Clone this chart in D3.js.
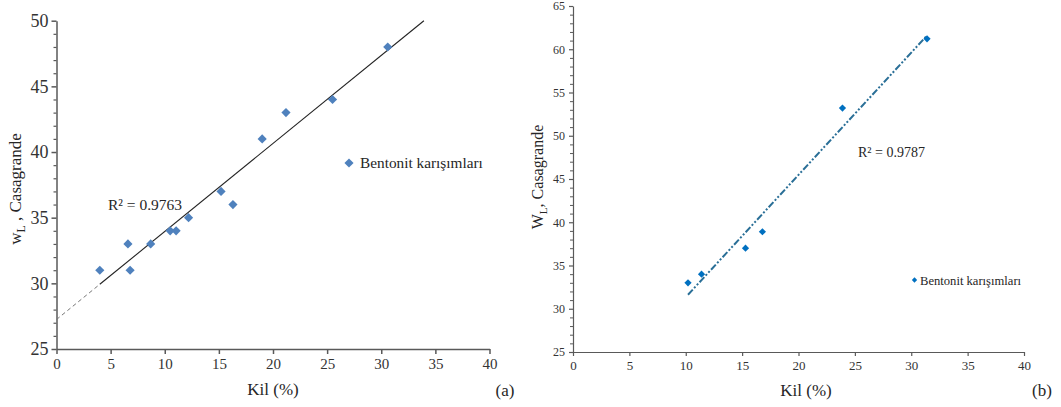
<!DOCTYPE html>
<html>
<head>
    <meta charset="UTF-8">
    <title>Kil - wL Casagrande</title>
</head>
<style>
    body { margin: 0; background: #fff; }
    svg text { font-family: "Liberation Serif", "Tinos", "Noto Serif", "DejaVu Serif", "FreeSerif", "Times New Roman", Times, serif !important; fill: #262626; }
    .axis path, .axis line { stroke: #595959; }
    .axis text { fill: #333; }
</style>
<body>
<svg width="1061" height="407"></svg>
<script src="https://d3js.org/d3.v7.min.js"></script>
<script>

    // panel (a)
    var kilA = [4, 6.6, 6.8, 8.7, 10.5, 11.05, 12.2, 15.2, 16.3, 19, 21.2, 25.5, 30.6];
    var wlA  = [31, 33, 31, 33, 34, 34, 35, 37, 36, 41, 43, 44, 48];
    var xTicksA = [0, 5, 10, 15, 20, 25, 30, 35, 40];
    var yTicksA = [25, 30, 35, 40, 45, 50];

    // panel (b)
    var kilB = [10.2, 11.4, 15.3, 16.8, 23.9, 31.4];
    var wlB  = [33, 34, 37, 38.9, 53.2, 61.2];
    var xTicksB = [0, 5, 10, 15, 20, 25, 30, 35, 40];
    var yTicksB = [25, 30, 35, 40, 45, 50, 55, 60, 65];

    var svg = d3.select("svg");

    function fit(xs, ys) {
        var mx = d3.mean(xs), my = d3.mean(ys);
        var sxy = d3.sum(xs, function(d, i) { return (d - mx) * (ys[i] - my); });
        var sxx = d3.sum(xs, function(d) { return (d - mx) * (d - mx); });
        var b = sxy / sxx;
        return { b: b, a: my - b * mx };
    }

    function minorTicks(lo, hi, majors) {
        return d3.range(lo, hi + 1).filter(function(v) { return majors.indexOf(v) < 0; });
    }

    // ---------- (a) ----------
    var xA = d3.scaleLinear().domain([0, 40]).range([56.5, 489.5]);
    var yA = d3.scaleLinear().domain([25, 50]).range([349, 20.7]);
    var gA = svg.append("g");

    gA.append("g").attr("class", "axis")
        .attr("transform", "translate(0," + yA(25) + ")")
        .call(d3.axisBottom(xA).tickValues(xTicksA).tickSize(5).tickSizeOuter(0).tickPadding(4))
        .call(function(g) {
            g.attr("font-family", null);
            g.selectAll("path,line").attr("stroke-width", 1.5);
            g.selectAll("text").attr("font-size", 15);
        });

    gA.append("g").attr("class", "axis")
        .attr("transform", "translate(" + xA(0) + ",0)")
        .call(d3.axisLeft(yA).tickValues(minorTicks(25, 50, yTicksA)).tickSize(3).tickFormat(""))
        .call(function(g) { g.select("path").remove(); g.selectAll("line").attr("stroke-width", 1.2); });

    gA.append("g").attr("class", "axis")
        .attr("transform", "translate(" + xA(0) + ",0)")
        .call(d3.axisLeft(yA).tickValues(yTicksA).tickSize(5).tickSizeOuter(0).tickPadding(3))
        .call(function(g) {
            g.attr("font-family", null);
            g.selectAll("path,line").attr("stroke-width", 1.5);
            g.selectAll("text").attr("font-size", 18);
        });

    var fA = fit(kilA, wlA);
    var xStartA = d3.min(kilA);
    var xEndA = (50 - fA.a) / fA.b;
    gA.append("line")
        .attr("x1", xA(0)).attr("y1", yA(fA.a))
        .attr("x2", xA(xStartA)).attr("y2", yA(fA.a + fA.b * xStartA))
        .attr("stroke", "#777").attr("stroke-width", 1).attr("stroke-dasharray", "4,3");
    gA.append("line")
        .attr("x1", xA(xStartA)).attr("y1", yA(fA.a + fA.b * xStartA))
        .attr("x2", xA(xEndA)).attr("y2", yA(fA.a + fA.b * xEndA))
        .attr("stroke", "#222").attr("stroke-width", 1.1);

    var diamondA = d3.symbol().type(d3.symbolSquare).size(42);
    gA.append("g").selectAll("path")
        .data(kilA)
        .enter().append("path")
        .attr("d", diamondA)
        .attr("fill", "#4f81bd")
        .attr("transform", function(d, i) { return "translate(" + xA(d) + "," + yA(wlA[i]) + ") rotate(45)"; });

    gA.append("text").attr("x", 108).attr("y", 210).attr("font-size", 15.5)
        .text("R² = 0.9763");

    gA.append("path").attr("d", diamondA).attr("fill", "#4f81bd")
        .attr("transform", "translate(349,163) rotate(45)");
    gA.append("text").attr("x", 360).attr("y", 168).attr("font-size", 15.3)
        .text("Bentonit karışımları");

    gA.append("text").attr("x", 273).attr("y", 395).attr("font-size", 17)
        .attr("text-anchor", "middle").text("Kil (%)");

    var ytA = gA.append("text").attr("font-size", 17).attr("text-anchor", "middle")
        .attr("transform", "translate(21,189) rotate(-90)");
    ytA.append("tspan").text("w");
    ytA.append("tspan").attr("dy", 4).attr("font-size", 12).text("L");
    ytA.append("tspan").attr("dy", -4).text(" , Casagrande");

    gA.append("text").attr("x", 505).attr("y", 396).attr("font-size", 17)
        .attr("text-anchor", "middle").attr("fill", "#1c1c2c").text("(a)");

    // ---------- (b) ----------
    var xB = d3.scaleLinear().domain([0, 40]).range([573, 1024]);
    var yB = d3.scaleLinear().domain([25, 65]).range([352, 6]);
    var gB = svg.append("g");

    gB.append("g").attr("class", "axis")
        .attr("transform", "translate(0," + yB(25) + ")")
        .call(d3.axisBottom(xB).tickValues(xTicksB).tickSize(4).tickSizeOuter(0).tickPadding(5))
        .call(function(g) {
            g.attr("font-family", null);
            g.selectAll("path,line").attr("stroke", "#404040").attr("stroke-width", 1.2);
            g.selectAll("text").attr("font-size", 13);
        });

    gB.append("g").attr("class", "axis")
        .attr("transform", "translate(" + xB(0) + ",0)")
        .call(d3.axisLeft(yB).tickValues(minorTicks(25, 65, yTicksB)).tickSize(3).tickFormat(""))
        .call(function(g) { g.select("path").remove(); g.selectAll("line").attr("stroke", "#404040"); });

    gB.append("g").attr("class", "axis")
        .attr("transform", "translate(" + xB(0) + ",0)")
        .call(d3.axisLeft(yB).tickValues(yTicksB).tickSize(4).tickSizeOuter(0).tickPadding(4))
        .call(function(g) {
            g.attr("font-family", null);
            g.selectAll("path,line").attr("stroke", "#404040").attr("stroke-width", 1.2);
            g.selectAll("text").attr("font-size", 12);
        });

    var fB = fit(kilB, wlB);
    var x0B = d3.min(kilB), x1B = d3.max(kilB);
    gB.append("line")
        .attr("x1", xB(x0B)).attr("y1", yB(fB.a + fB.b * x0B))
        .attr("x2", xB(x1B)).attr("y2", yB(fB.a + fB.b * x1B))
        .attr("stroke", "#2a6f97").attr("stroke-width", 2)
        .attr("stroke-dasharray", "7,2,2,2,2,2");

    var diamondB = d3.symbol().type(d3.symbolSquare).size(26);
    gB.append("g").selectAll("path")
        .data(kilB)
        .enter().append("path")
        .attr("d", diamondB)
        .attr("fill", "#0070c0")
        .attr("transform", function(d, i) { return "translate(" + xB(d) + "," + yB(wlB[i]) + ") rotate(45)"; });

    gB.append("text").attr("x", 858).attr("y", 157).attr("font-size", 14)
        .text("R² = 0.9787");

    gB.append("path").attr("d", d3.symbol().type(d3.symbolSquare).size(14)).attr("fill", "#0070c0")
        .attr("transform", "translate(914.5,280) rotate(45)");
    gB.append("text").attr("x", 920).attr("y", 284.5).attr("font-size", 12.6)
        .text("Bentonit karışımları");

    gB.append("text").attr("x", 806).attr("y", 396).attr("font-size", 17)
        .attr("text-anchor", "middle").text("Kil (%)");

    var ytB = gB.append("text").attr("font-size", 16).attr("text-anchor", "middle")
        .attr("transform", "translate(543,177) rotate(-90)");
    ytB.append("tspan").text("W");
    ytB.append("tspan").attr("dy", 4).attr("font-size", 11).text("L");
    ytB.append("tspan").attr("dy", -4).text(", Casagrande");

    gB.append("text").attr("x", 1042).attr("y", 396).attr("font-size", 17)
        .attr("text-anchor", "middle").attr("fill", "#1c1c2c").text("(b)");

</script>
</body>
</html>
